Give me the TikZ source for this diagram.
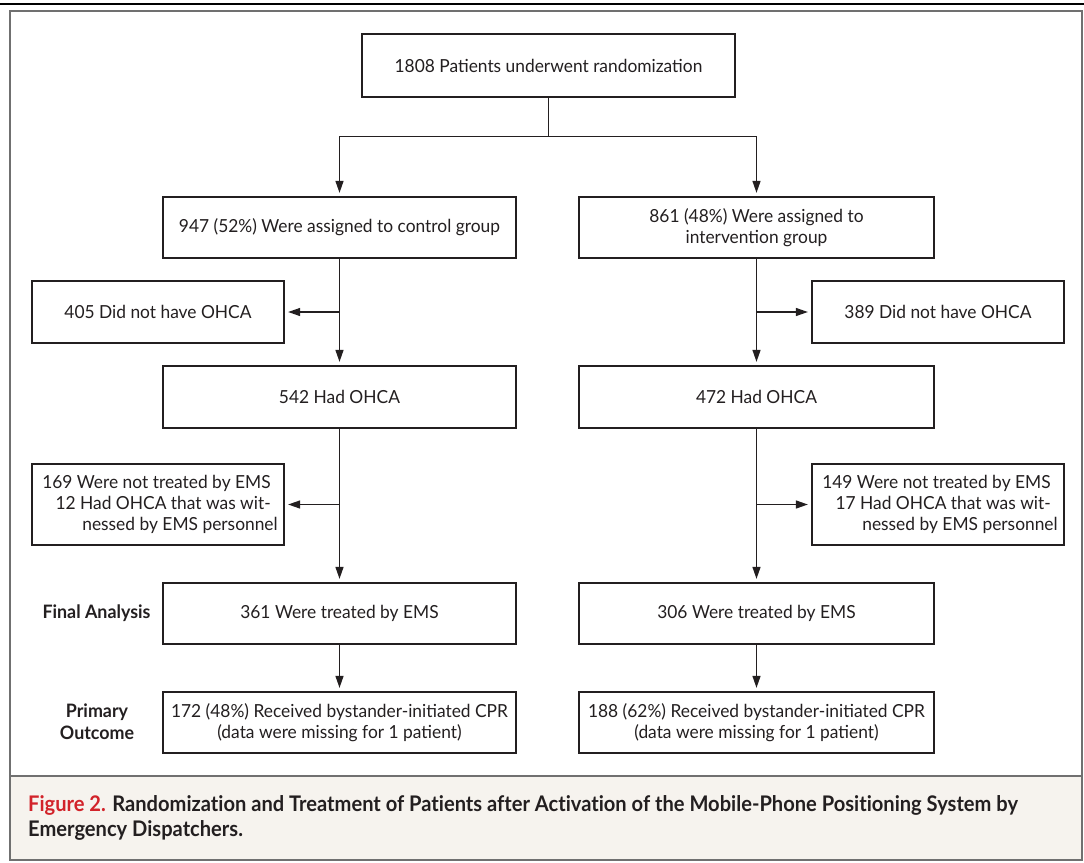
\documentclass[tikz,border=0pt]{standalone}
\usepackage{fontspec}
\setmainfont{Lato}[FakeStretch=0.965]
\newfontfamily\capfont[FakeStretch=0.935,Ligatures=NoCommon]{Lato}
\usetikzlibrary{arrows.meta}
\definecolor{framegray}{HTML}{707070}
\definecolor{capbg}{HTML}{F6F3EE}
\definecolor{figred}{HTML}{D2232A}
\definecolor{ink}{HTML}{231F20}
\begin{document}
\begin{tikzpicture}[x=1pt,y=-1pt,
  box/.style={draw=ink, line width=1.3pt, inner sep=0pt, align=center, font=\fontsize{18}{21}\selectfont, text=ink},
  wide/.style={box, minimum width=353pt, minimum height=61pt},
  excl/.style={box, minimum width=252pt},
  conn/.style={draw=ink, line width=1.3pt},
  arr/.style={conn, -{Triangle[length=12pt,width=8pt]}, shorten >=3.5pt},
  lab/.style={font=\bfseries\fontsize{18.5}{22}\selectfont, align=center, text=ink}
]
\useasboundingbox (0,0) rectangle (1084,862);
\fill[white] (0,0) rectangle (1084,862);
\fill[capbg] (10,776) rectangle (1082,860);
\draw[black, line width=1.2pt] (0,4) -- (1084,4);
\draw[framegray, line width=2pt] (10,11) rectangle (1082,860);
\draw[framegray, line width=2.5pt] (10,776) -- (1082,776);

\node[box, minimum width=373pt, minimum height=63pt] (top) at (548.5,65.5) {1808 Patients underwent randomization};
\node[wide] (ctrl) at (339.5,227.5) {947 (52\%) Were assigned to control group};
\node[wide, minimum width=355pt] (intv) at (756.5,227.5) {861 (48\%) Were assigned to\\intervention group};
\node[excl, minimum height=62pt] (exL) at (158,312) {405 Did not have OHCA};
\node[excl, minimum height=62pt] (exR) at (938,312) {389 Did not have OHCA};
\node[wide, minimum height=62pt] (ohL) at (339.5,397) {542 Had OHCA};
\node[wide, minimum width=355pt, minimum height=62pt] (ohR) at (756.5,397) {472 Had OHCA};
\node[excl, minimum height=81pt, align=right] (nxL) at (158,504.5) {\hspace*{-3pt}169 Were not treated by EMS\\12 Had OHCA that was wit-\\nessed by EMS personnel\kern-7pt};
\node[excl, minimum height=81pt, align=right] (nxR) at (938,504.5) {\hspace*{-3pt}149 Were not treated by EMS\\17 Had OHCA that was wit-\\nessed by EMS personnel\kern-7pt};
\node[wide] (emsL) at (339.5,613.5) {361 Were treated by EMS};
\node[wide, minimum width=355pt] (emsR) at (756.5,613.5) {306 Were treated by EMS};
\node[wide] (cprL) at (339.5,722.5) {172 (48\%) Received bystander-initiated CPR\\(data were missing for 1 patient)};
\node[wide, minimum width=355pt] (cprR) at (756.5,722.5) {188 (62\%) Received bystander-initiated CPR\\(data were missing for 1 patient)};

\node[lab] (fa) at (96.5,613) {Final Analysis};
\node[lab] (po) at (97,722) {Primary\\Outcome};

\coordinate (split) at ([yshift=-39pt]top.south);
\draw[conn] (top.south) -- (split);
\draw[arr] (split) -| (ctrl.north);
\draw[arr] (split) -| (intv.north);
\draw[arr] (ctrl.south) -- (ohL.north);
\draw[arr] (ctrl.south |- exL.east) -- (exL.east);
\draw[arr] (intv.south) -- (ohR.north);
\draw[arr] (intv.south |- exR.west) -- (exR.west);
\draw[arr] (ohL.south) -- (emsL.north);
\draw[arr] (ohL.south |- nxL.east) -- (nxL.east);
\draw[arr] (ohR.south) -- (emsR.north);
\draw[arr] (ohR.south |- nxR.west) -- (nxR.west);
\draw[arr] (emsL.south) -- (cprL.north);
\draw[arr] (emsR.south) -- (cprR.north);

\node[anchor=west, align=left, inner sep=0pt, text=ink,
      font=\capfont\bfseries\fontsize{21.5}{25}\selectfont] (cap) at (28,817.5)
  {{\color{figred}Figure 2.} Randomization and Treatment of Patients after Activation of the Mobile-Phone Positioning System by\\Emergency Dispatchers.};
\end{tikzpicture}
\end{document}
